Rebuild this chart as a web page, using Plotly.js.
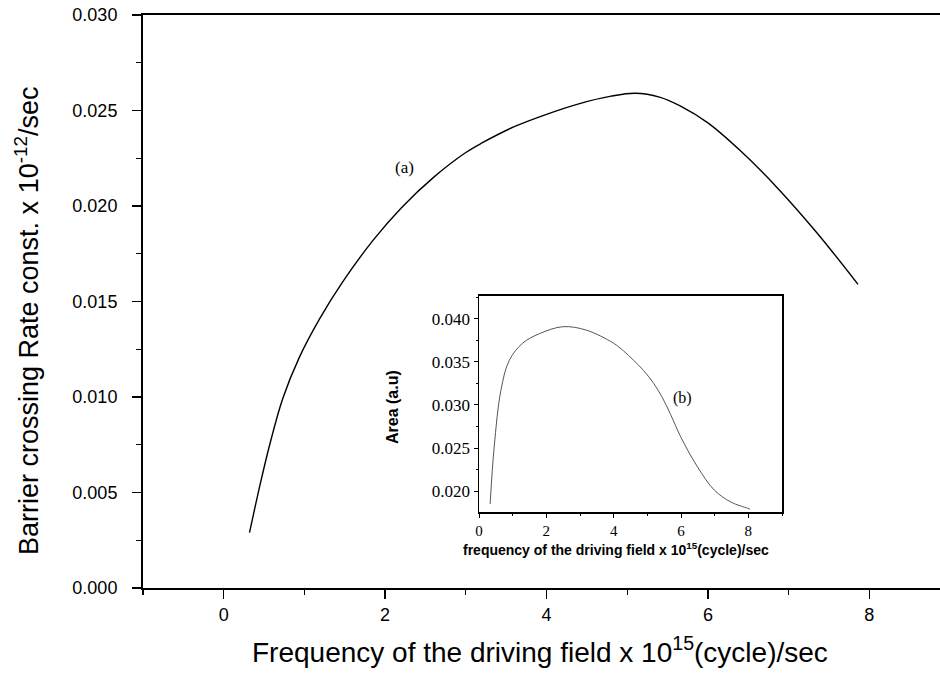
<!DOCTYPE html>
<html>
<head>
<meta charset="utf-8">
<script src="https://cdn.plot.ly/plotly-3.0.1.min.js"></script>
<style>html,body{margin:0;padding:0;background:#fff;}#chart{width:940px;height:684px;}</style>
</head>
<body>
<div id="chart"></div>
<script>
// Main curve (a): frequency (x 10^15 cycle/sec) vs barrier crossing rate const (x 10^-12 /sec)
const freqA = [0.32,0.45,0.57,0.73,0.94,1.19,1.47,1.85,2.2,2.6,3.0,3.2,3.6,4.0,4.4,4.8,5.1,5.4,5.65,6.0,6.4,6.85,7.35,7.86];
const rateA = [0.0029,0.0054,0.0075,0.0099,0.0121,0.0141,0.0160,0.0182,0.0199,0.0215,0.0228,0.0233,0.02415,0.0248,0.02535,0.02575,0.0259,0.0257,0.02525,0.02435,0.0229,0.0210,0.0186,0.0159];
// Inset curve (b): frequency vs area (a.u)
const freqB = [0.33,0.45,0.65,0.90,1.30,1.80,2.49,3.19,3.99,4.29,4.59,4.89,5.19,5.44,5.69,5.99,6.49,6.99,7.49,7.98,8.05];
const areaB = [0.0185,0.0251,0.0317,0.0352,0.0372,0.0383,0.0391,0.0387,0.0372,0.0363,0.0352,0.0340,0.0325,0.0309,0.0289,0.0263,0.0228,0.0201,0.0187,0.0180,0.0179];
// Tick values / labels
const mainYTicks = [0,0.005,0.010,0.015,0.020,0.025,0.030];
const mainYLabels = ["0.000","0.005","0.010","0.015","0.020","0.025","0.030"];
const mainXTicks = [0,2,4,6,8];
const insetYTicks = [0.020,0.025,0.030,0.035,0.040];
const insetYLabels = ["0.020","0.025","0.030","0.035","0.040"];
const insetXTicks = [0,2,4,6,8];
// Text
const mainXTitle = "Frequency of the driving field x 10<sup>15</sup>(cycle)/sec";
const mainYTitle = "Barrier crossing Rate const. x 10<sup>-12</sup>/sec";
const insetXTitle = "frequency of the driving field x 10<sup>15</sup>(cycle)/sec";
const insetYTitle = "Area (a.u)";
const labelA = "(a)", labelB = "(b)";

const sans = "Liberation Sans, Arial, sans-serif";
const serif = "Liberation Serif, Times New Roman, serif";

const traces = [
  {x: freqA, y: rateA, type:'scatter', mode:'lines', line:{color:'#000', width:1.4, shape:'spline', smoothing:1}, xaxis:'x', yaxis:'y', hoverinfo:'skip'},
  {x: freqB, y: areaB, type:'scatter', mode:'lines', line:{color:'#555', width:1, shape:'spline', smoothing:1}, xaxis:'x2', yaxis:'y2', hoverinfo:'skip'}
];

const layout = {
  width:940, height:684,
  margin:{l:143, r:0, t:15, b:96},
  paper_bgcolor:'#fff', plot_bgcolor:'rgba(0,0,0,0)',
  showlegend:false,
  xaxis:{domain:[0,1], range:[-1,8.876], showgrid:false, zeroline:false, showline:true, linecolor:'#000', linewidth:2, mirror:true,
    ticks:'outside', ticklen:9, tickwidth:1.5, tickcolor:'#000', tickvals:mainXTicks, ticktext:mainXTicks.map(String),
    minor:{dtick:1, tick0:0, ticks:'outside', ticklen:5, tickwidth:1.2, tickcolor:'#000'},
    tickfont:{family:sans, size:18, color:'#000'}, ticklabelstandoff:0},
  yaxis:{domain:[0,1], range:[0,0.030], showgrid:false, zeroline:false, showline:true, linecolor:'#000', linewidth:2, mirror:false,
    ticks:'outside', ticklen:9, tickwidth:1.5, tickcolor:'#000', tickvals:mainYTicks, ticktext:mainYLabels,
    minor:{dtick:0.0025, tick0:0, ticks:'outside', ticklen:5, tickwidth:1.2, tickcolor:'#000'},
    tickfont:{family:sans, size:18, color:'#000'}, ticklabelstandoff:11},
  xaxis2:{domain:[0.4216,0.8018], anchor:'y2', range:[0,9], showgrid:false, zeroline:false, showline:true, linecolor:'#000', linewidth:1.5, mirror:true,
    ticks:'outside', ticklen:4, tickwidth:1, tickcolor:'#000', tickvals:insetXTicks, ticktext:insetXTicks.map(String),
    minor:{dtick:1, tick0:0, ticks:'outside', ticklen:2, tickwidth:1, tickcolor:'#000'},
    tickfont:{family:serif, size:15, color:'#000'}, ticklabelstandoff:0},
  yaxis2:{domain:[0.1326,0.5096], anchor:'x2', range:[0.01756,0.04267], showgrid:false, zeroline:false, showline:true, linecolor:'#000', linewidth:1.5, mirror:true,
    ticks:'outside', ticklen:4, tickwidth:1, tickcolor:'#000', tickvals:insetYTicks, ticktext:insetYLabels,
    minor:{dtick:0.0025, tick0:0, ticks:'outside', ticklen:2, tickwidth:1, tickcolor:'#000'},
    tickfont:{family:serif, size:17, color:'#000'}, ticklabelstandoff:0},
  annotations:[
    {text:mainXTitle, xref:'paper', yref:'paper', x:(540-143)/797, y:(588-650)/573, xanchor:'center', yanchor:'middle', showarrow:false, font:{family:sans, size:28, color:'#000'}},
    {text:mainYTitle, xref:'paper', yref:'paper', x:(27-143)/797, y:(588-321)/573, xanchor:'center', yanchor:'middle', textangle:-90, showarrow:false, font:{family:sans, size:27, color:'#000'}},
    {text:insetXTitle, xref:'paper', yref:'paper', x:(616-143)/797, y:(588-549)/573, xanchor:'center', yanchor:'middle', showarrow:false, font:{family:sans, size:14, color:'#000', weight:'bold'}},
    {text:insetYTitle, xref:'paper', yref:'paper', x:(392-143)/797, y:(588-407)/573, xanchor:'center', yanchor:'middle', textangle:-90, showarrow:false, font:{family:sans, size:16, color:'#000', weight:'bold'}},
    {text:labelA, xref:'x', yref:'y', x:2.24, y:0.0220, xanchor:'center', yanchor:'middle', showarrow:false, font:{family:serif, size:17, color:'#000'}},
    {text:labelB, xref:'x2', yref:'y2', x:6.05, y:0.0308, xanchor:'center', yanchor:'middle', showarrow:false, font:{family:serif, size:16, color:'#000'}}
  ]
};

Plotly.newPlot('chart', traces, layout, {staticPlot:true, displayModeBar:false});
</script>
</body>
</html>
